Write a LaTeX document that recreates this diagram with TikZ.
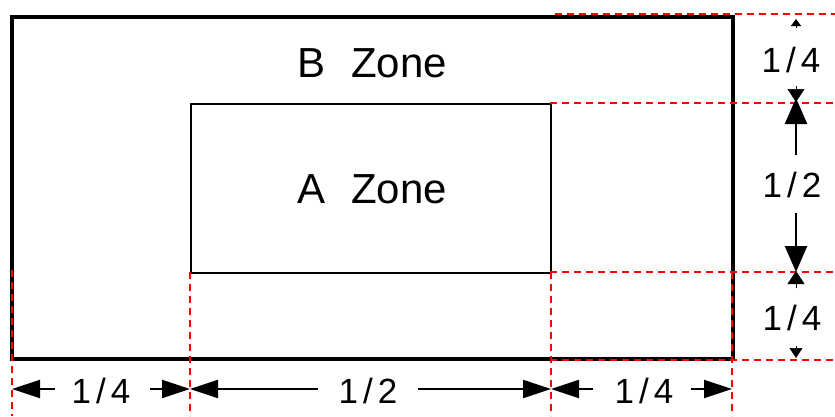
\documentclass[tikz,border=0pt]{standalone}
\usepackage{fontspec}
\setmainfont{Liberation Sans}
\usetikzlibrary{arrows.meta}
\begin{document}
\begin{tikzpicture}[x=1pt,y=-1pt,
  zonetext/.style={font=\fontsize{42}{42}\selectfont,anchor=base,inner sep=0pt},
  dimtext/.style={font=\fontsize{35}{35}\selectfont,anchor=base,inner sep=0pt},
  reddash/.style={red,line width=2.6pt,dash pattern=on 7pt off 5pt},
  dimarrow/.style={line width=2pt,-{Triangle[length=28pt,width=18pt]}},
  bigvarrow/.style={line width=2.2pt,-{Triangle[length=26pt,width=22pt]}},
  smallhead/.style={line width=0.5pt,-{Triangle[length=13pt,width=17pt]}}]
\useasboundingbox (0,0) rectangle (835,416);
\fill[white] (0,0) rectangle (835,416);
% zones
\node[draw,line width=3.5pt,minimum width=721pt,minimum height=342pt,anchor=north west,inner sep=0pt] (outer) at (10,15) {};
\node[draw,line width=2.2pt,minimum width=360pt,minimum height=169pt,anchor=north west,inner sep=0pt] (inner) at (190,103) {};
\node[zonetext] (bz) at (372,77) {B\hspace{26pt}Zone};
\node[zonetext] (az) at (372,203) {A\hspace{26pt}Zone};
% red dashed reference lines
\coordinate (h1a) at (555,14); \coordinate (h1b) at (835,14);
\coordinate (h2a) at (550,103); \coordinate (h2b) at (835,103);
\coordinate (h3a) at (550,272); \coordinate (h3b) at (835,272);
\coordinate (h4a) at (550,360); \coordinate (h4b) at (835,360);
\coordinate (v1a) at (12,270); \coordinate (v1b) at (12,416);
\coordinate (v2a) at (190,272); \coordinate (v2b) at (190,416);
\coordinate (v3a) at (551,272); \coordinate (v3b) at (551,416);
\coordinate (v4a) at (732,272); \coordinate (v4b) at (732,416);
\foreach \a/\b in {h1a/h1b,h2a/h2b,h3a/h3b,h4a/h4b,v1a/v1b,v2a/v2b,v3a/v3b,v4a/v4b}
  \draw[reddash] (\a) -- (\b);
% bottom dimension labels
\node[dimtext] (d1) at (101,403) {1\kern5pt/\kern5pt4};
\node[dimtext] (d2) at (368,403) {1\kern5pt/\kern5pt2};
\node[dimtext] (d3) at (644,403) {1\kern5pt/\kern5pt4};
% bottom dimension arrows
\coordinate (b0) at (12,389); \coordinate (b1) at (190,389);
\coordinate (b2) at (551,389); \coordinate (b3) at (732,389);
\coordinate (s1) at (55,389); \coordinate (s2) at (150,389);
\coordinate (s3) at (318,389); \coordinate (s4) at (418,389);
\coordinate (s5) at (593,389); \coordinate (s6) at (691,389);
\draw[dimarrow] (s1) -- (b0);
\draw[dimarrow] (s2) -- (b1);
\draw[dimarrow] (s3) -- (b1);
\draw[dimarrow] (s4) -- (b2);
\draw[dimarrow] (s5) -- (b2);
\draw[dimarrow] (s6) -- (b3);
% right dimension labels
\node[dimtext] (r1) at (791,72) {1\kern5pt/\kern5pt4};
\node[dimtext] (r2) at (792,197) {1\kern5pt/\kern5pt2};
\node[dimtext] (r3) at (792,330) {1\kern5pt/\kern5pt4};
% right dimension arrows
\coordinate (t1) at (796,28); \coordinate (t0) at (796,19);
\coordinate (t2) at (796,86); \coordinate (t3) at (796,102);
\coordinate (m1) at (796,155); \coordinate (m2) at (796,98);
\coordinate (m3) at (796,213); \coordinate (m4) at (796,272);
\coordinate (u1) at (796,288); \coordinate (u2) at (796,271);
\coordinate (w1) at (796,346); \coordinate (w2) at (796,358);
\draw[line width=0.5pt,-{Triangle[length=7pt,width=10pt]}] (t1) -- (t0);
\draw[smallhead] (t2) -- (t3);
\draw[bigvarrow] (m1) -- (m2);
\draw[bigvarrow] (m3) -- (m4);
\draw[smallhead] (u1) -- (u2);
\draw[line width=0.5pt,-{Triangle[length=10pt,width=13pt]}] (w1) -- (w2);
\end{tikzpicture}
\end{document}
